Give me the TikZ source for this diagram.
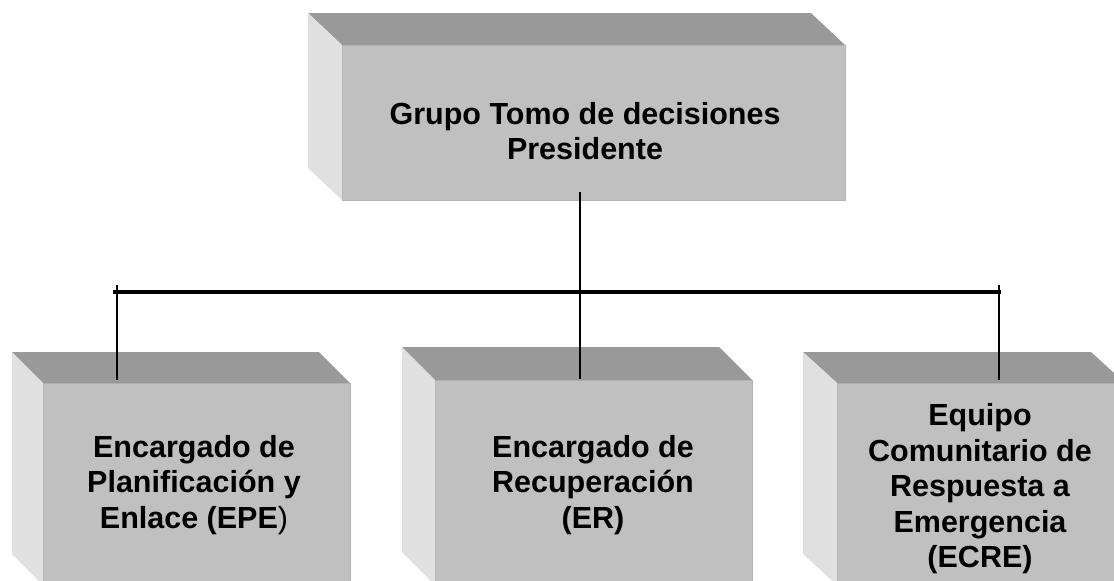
\documentclass[tikz,border=0pt]{standalone}
\usepackage{fontspec}
\setmainfont{Liberation Sans}
\definecolor{frontgray}{HTML}{C0C0C0}
\definecolor{topgray}{HTML}{999999}
\definecolor{sidegray}{HTML}{E0E0E0}
\definecolor{edgegray}{HTML}{B4B4B4}
\tikzset{
  face/.style={fill=frontgray, draw=edgegray, line width=0.8pt, inner sep=0pt, outer sep=0pt},
  lbl/.style={align=center, inner sep=0pt, font=\bfseries\fontsize{30.5}{35.5}\selectfont},
  conn/.style={draw=black, line width=1.3pt},
  bus/.style={draw=black, line width=3.3pt},
}
\newcommand{\cubefaces}[3]{%
  \fill[topgray] (#1.north west) -- (#1.north east) -- ++(#2,#3) -- ([shift={(#2,#3)}]#1.north west) -- cycle;
  \fill[sidegray] (#1.north west) -- (#1.south west) -- ++(#2,#3) -- ([shift={(#2,#3)}]#1.north west) -- cycle;
}
\begin{document}
\begin{tikzpicture}[x=1pt,y=-1pt]
\useasboundingbox (0,0) rectangle (1114,581);
\clip (0,0) rectangle (1114,581);
\fill[white] (0,0) rectangle (1114,581);
% front faces
\node[face, minimum width=503pt, minimum height=155pt] (top) at (593.5,122.5) {};
\node[face, minimum width=307pt, minimum height=202pt] (EPE) at (196.5,484) {};
\node[face, minimum width=317pt, minimum height=205pt] (ER) at (593.5,482.5) {};
\node[face, minimum width=288pt, minimum height=202pt] (ECRE) at (981,484) {};
\cubefaces{top}{-34}{-32}
\cubefaces{EPE}{-31}{-31}
\cubefaces{ER}{-33}{-33}
\cubefaces{ECRE}{-34}{-31}
% labels
\node[lbl] (topt) at (585,131) {Grupo Tomo de decisiones\\Presidente};
\node[lbl] (EPEt) at (194,485) {Encargado de\\Planificación y\\Enlace (EPE{\mdseries )}};
\node[lbl] (ERt) at (593,485) {Encargado de\\Recuperación\\(ER)};
\node[lbl] (ECREt) at (980,489) {Equipo\\Comunitario de\\Respuesta a\\Emergencia\\(ECRE)};
% connectors
\coordinate (busL) at (113,292);
\coordinate (busR) at (1001,292);
\coordinate (mx) at (580,192);
\coordinate (lx) at (117,285);
\coordinate (rx) at (999,285);
\draw[bus] (busL) -- (busR);
\draw[conn] (mx) -- ([yshift=1pt]mx |- ER.north);
\draw[conn] (lx) -- ([yshift=3pt]lx |- EPE.north);
\draw[conn] (rx) -- ([yshift=3pt]rx |- ECRE.north);
\end{tikzpicture}
\end{document}
